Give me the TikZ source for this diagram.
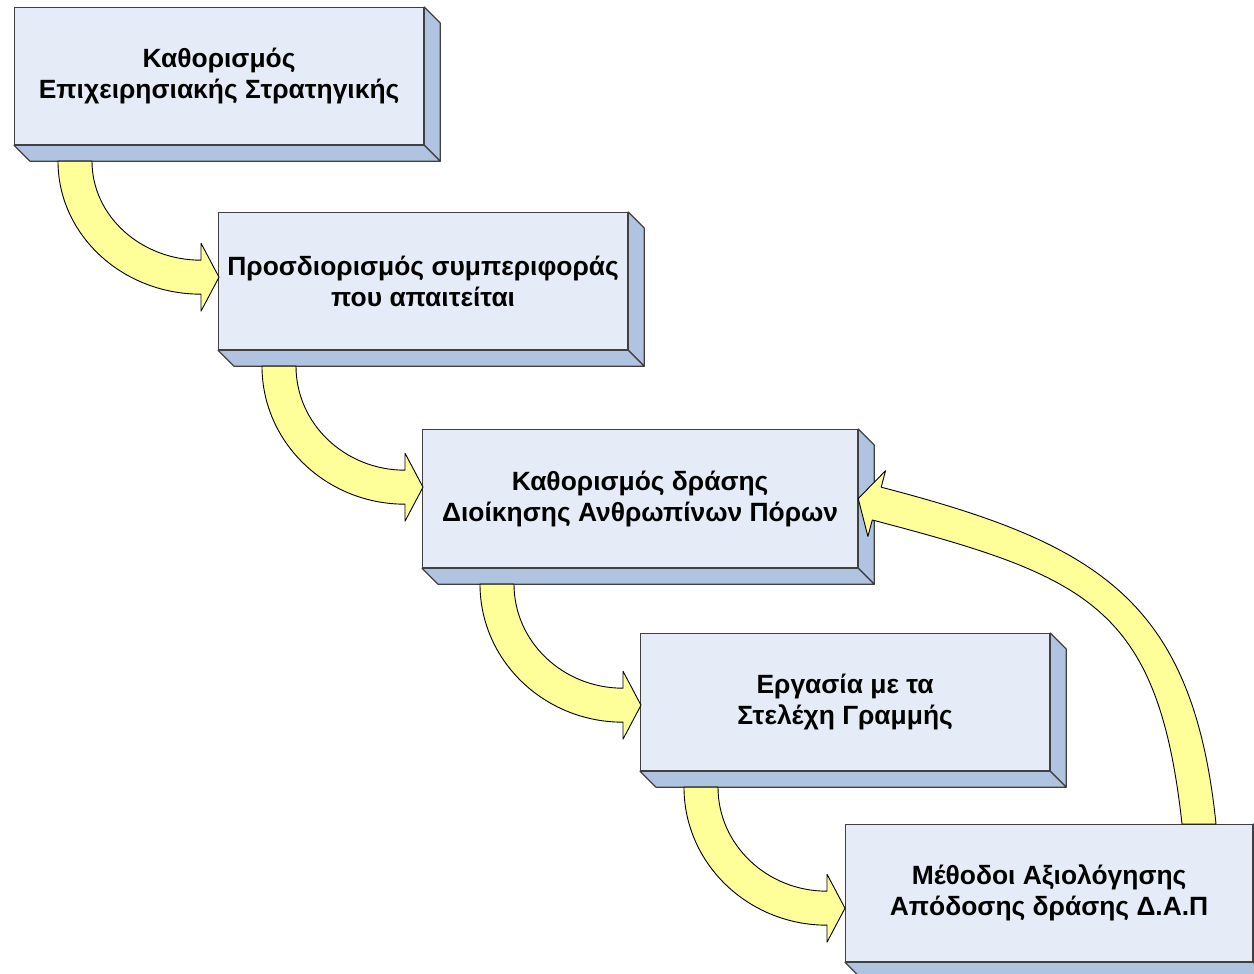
\documentclass[tikz,border=0pt]{standalone}
\usepackage{fontspec}
\setmainfont{Liberation Sans}
\usetikzlibrary{calc}
\definecolor{boxfront}{RGB}{230,236,247}
\definecolor{boxdepth}{RGB}{176,196,226}
\definecolor{arrowfill}{RGB}{255,255,153}
\newcommand{\bentarrow}[4]{%
  \draw[bentarr] ($(#1.south west)+(#2,-16)$)
    arc[start angle=180, end angle=270, x radius=#3, y radius=#4]
    -- ++(0,-17) -- ++(18,34) -- ++(-18,34) -- ++(0,-17)
    arc[start angle=270, end angle=180, x radius=#3-34, y radius=#4-34] -- cycle;}

\begin{document}
\begin{tikzpicture}[x=1pt, y=1pt,
    box/.style={draw=black!75, line width=1.2, fill=boxfront, anchor=north west,
      minimum width=409, minimum height=137, inner sep=0pt, align=center,
      font=\fontsize{26.4}{31}\selectfont\bfseries},
    depthface/.style={draw=black!75, line width=1.2, fill=boxdepth, line join=round},
    bentarr/.style={draw=black, line width=0.9, fill=arrowfill, line join=round}]
    \useasboundingbox (0,0) rectangle (1254,974);
    \clip (0,0) rectangle (1254,974);
    \node[box] (b1) at (14,967) {Καθορισμός\\Επιχειρησιακής Στρατηγικής};
    \node[box] (b2) at (218,762) {Προσδιορισμός συμπεριφοράς\\που απαιτείται};
    \node[box, minimum width=435, minimum height=138] (b3) at (422,545) {Καθορισμός δράσης\\Διοίκησης Ανθρωπίνων Πόρων};
    \node[box] (b4) at (640,341) {Εργασία με τα\\Στελέχη Γραμμής};
    \node[box, minimum width=407] (b5) at (845,150) {Μέθοδοι Αξιολόγησης\\Απόδοσης δράσης Δ.Α.Π};
    \foreach \n in {b1,b2,b3,b4,b5} {
      \draw[depthface] (\n.north east) -- ++(16,-16) -- ($(\n.south east)+(16,-16)$) -- (\n.south east) -- cycle;
      \draw[depthface] (\n.south west) -- ++(16,-16) -- ($(\n.south east)+(16,-16)$) -- (\n.south east) -- cycle;
    }
    \bentarrow{b1}{44}{143}{133}
    \bentarrow{b2}{44}{143}{138}
    \bentarrow{b3}{58}{143}{138}
    \bentarrow{b4}{44}{143}{138}
    \draw[bentarr] ($(b5.north west)+(371,0)$)
      .. controls ($(b5.north west)+(348,224)$) and ($(b3.east)+(240,-45)$) .. ($(b3.east)+(23,11.4)$)
      -- ($(b3.east)+(27.3,27.8)$) -- (b3.east) -- ($(b3.east)+(9.7,-37.8)$) -- ($(b3.east)+(14.1,-21.4)$)
      .. controls ($(b3.east)+(230,-78)$) and ($(b5.north west)+(313,218)$) .. ($(b5.north west)+(337,0)$) -- cycle;
\end{tikzpicture}
\end{document}
